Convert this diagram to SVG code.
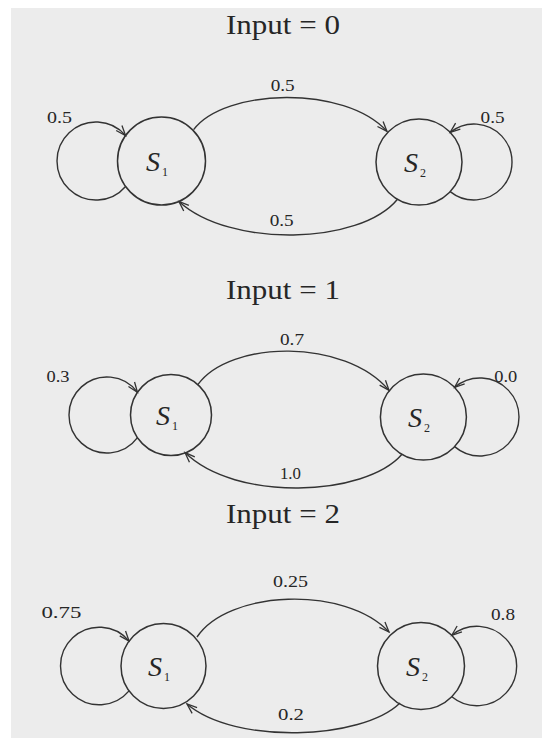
<svg xmlns="http://www.w3.org/2000/svg" width="542" height="738" viewBox="0 0 542 738">
<style>
.st{fill:none;stroke:#333;stroke-width:1.5}
.ed{fill:none;stroke:#333;stroke-width:1.4}
.ti{font-family:"Liberation Serif",serif;font-size:28px;fill:#262626;text-anchor:middle}
.lb{font-family:"Liberation Serif",serif;font-size:16px;fill:#262626;text-anchor:middle}
.sn{font-family:"Liberation Serif",serif;font-size:28px;font-style:italic;fill:#262626}
.sb{font-family:"Liberation Serif",serif;font-size:12px;fill:#262626}
</style>
<defs>
<marker id="ah" markerWidth="14" markerHeight="10" refX="0" refY="0" viewBox="-12 -5 14 10" orient="auto" markerUnits="userSpaceOnUse">
<path d="M-10,-3.8 L0,0 L-10,3.8" fill="none" stroke="#333" stroke-width="1.3"/>
</marker>
</defs>
<rect x="0" y="0" width="542" height="738" fill="#ffffff"/>
<rect x="11" y="8" width="531" height="730" fill="#ececec"/>

<!-- Panel 1 -->
<text class="ti" x="283" y="34" textLength="114" lengthAdjust="spacingAndGlyphs">Input = 0</text>
<g id="p1-s1"><circle class="st" cx="161.5" cy="161" r="44"/><text class="sn" x="146" y="171">S</text><text class="sb" x="162" y="176">1</text></g>
<g id="p1-s2"><circle class="st" cx="419" cy="162" r="43"/><text class="sn" x="404" y="172">S</text><text class="sb" x="420" y="177">2</text></g>
<g id="p1-edges">
<path class="ed" d="M125.58,186.42 A39,39 0 1 1 125.58,135.58" marker-end="url(#ah)"/>
<path class="ed" d="M450.18,191.6 A38,38 0 1 0 450.18,132.4" marker-end="url(#ah)"/>
<path class="ed" d="M193.6,129.6 C225,88 345,85 387,131.4" marker-end="url(#ah)"/>
<path class="ed" d="M397.5,199.2 C360,245 230,248 178.9,201.4" marker-end="url(#ah)"/>
<text class="lb" x="59.6" y="122.7" textLength="25" lengthAdjust="spacingAndGlyphs">0.5</text>
<text class="lb" x="492.6" y="122.7" textLength="24" lengthAdjust="spacingAndGlyphs">0.5</text>
<text class="lb" x="282.7" y="90.6" textLength="24" lengthAdjust="spacingAndGlyphs">0.5</text>
<text class="lb" x="281.7" y="226.4" textLength="24" lengthAdjust="spacingAndGlyphs">0.5</text>
</g>

<!-- Panel 2 -->
<text class="ti" x="283" y="299" textLength="114" lengthAdjust="spacingAndGlyphs">Input = 1</text>
<g id="p2-s1"><circle class="st" cx="171" cy="415" r="40.5"/><text class="sn" x="156" y="425">S</text><text class="sb" x="172" y="430">1</text></g>
<g id="p2-s2"><circle class="st" cx="423.4" cy="417" r="43"/><text class="sn" x="408" y="427">S</text><text class="sb" x="424" y="432">2</text></g>
<g id="p2-edges">
<path class="ed" d="M137.47,437.7 A38,38 0 1 1 137.47,392.3" marker-end="url(#ah)"/>
<path class="ed" d="M454.6,446.6 A39,39 0 1 0 454.6,387.4" marker-end="url(#ah)"/>
<path class="ed" d="M197.8,384.7 C230,340 345,338 389,390.4" marker-end="url(#ah)"/>
<path class="ed" d="M402,454.3 C365,497 235,502 185,452.6" marker-end="url(#ah)"/>
<text class="lb" x="58" y="381.7" textLength="23" lengthAdjust="spacingAndGlyphs">0.3</text>
<text class="lb" x="505.7" y="381.7" textLength="23" lengthAdjust="spacingAndGlyphs">0.0</text>
<text class="lb" x="292" y="345.4" textLength="24" lengthAdjust="spacingAndGlyphs">0.7</text>
<text class="lb" x="290.4" y="478.5" textLength="21" lengthAdjust="spacingAndGlyphs">1.0</text>
</g>

<!-- Panel 3 -->
<text class="ti" x="283" y="523" textLength="114" lengthAdjust="spacingAndGlyphs">Input = 2</text>
<g id="p3-s1"><circle class="st" cx="163.5" cy="666" r="42.5"/><text class="sn" x="148" y="676">S</text><text class="sb" x="164" y="681">1</text></g>
<g id="p3-s2"><circle class="st" cx="421" cy="666" r="43.5"/><text class="sn" x="406" y="676">S</text><text class="sb" x="422" y="681">2</text></g>
<g id="p3-edges">
<path class="ed" d="M129.06,690.9 A38.8,38.8 0 1 1 129.06,641.1" marker-end="url(#ah)"/>
<path class="ed" d="M451.8,696.7 A39.7,39.7 0 1 0 451.8,635.3" marker-end="url(#ah)"/>
<path class="ed" d="M197,637 C228,590 345,585 389,632" marker-end="url(#ah)"/>
<path class="ed" d="M400,703 C362,740 235,745 187,704" marker-end="url(#ah)"/>
<text class="lb" x="61.4" y="618" textLength="40" lengthAdjust="spacingAndGlyphs">0.75</text>
<text class="lb" x="503" y="619.6" textLength="24" lengthAdjust="spacingAndGlyphs">0.8</text>
<text class="lb" x="290.4" y="586.8" textLength="35" lengthAdjust="spacingAndGlyphs">0.25</text>
<text class="lb" x="291" y="720" textLength="26" lengthAdjust="spacingAndGlyphs">0.2</text>
</g>
</svg>
